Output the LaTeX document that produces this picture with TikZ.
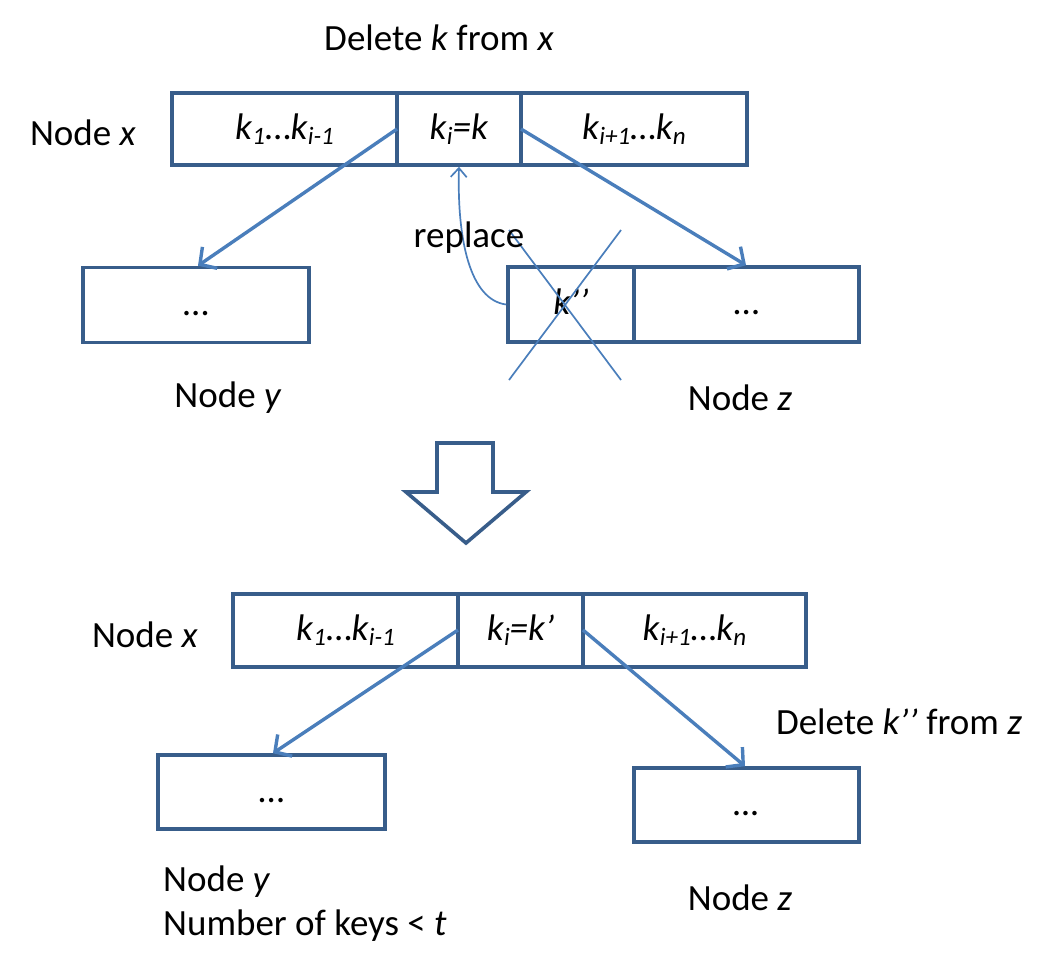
\documentclass[tikz,border=0pt]{standalone}
\usepackage{fontspec}
\setmainfont{Carlito}
\usetikzlibrary{arrows.meta}
\definecolor{boxblue}{HTML}{385D8A}
\definecolor{arrblue}{HTML}{4A7EBB}
\newcommand{\Kk}[1]{\textit{k}\raisebox{-0.3ex}{\fontsize{25}{25}\selectfont\itshape #1}}
\begin{document}
\begin{tikzpicture}[x=1pt,y=-1pt,
  every node/.style={font=\fontsize{37}{44}\selectfont, inner sep=0pt},
  cell/.style={draw=boxblue, line width=3.6pt, rectangle, minimum height=73pt, text height=26pt, text depth=6pt},
  link/.style={draw=arrblue, line width=3.4pt, -{Straight Barb[length=12pt,width=26pt,line width=3.4pt]}},
  thin/.style={draw=arrblue, line width=1.7pt},
  lbl/.style={anchor=center}]
\useasboundingbox (0,0) rectangle (1047,962);
% top node x
\node[cell, minimum width=225pt, minimum height=72pt] (x1) at (284.5,129) {\Kk{1}…\Kk{i-1}};
\node[cell, minimum width=124pt, minimum height=72pt] (x2) at (459,129) {\Kk{i}\textit{=k}};
\node[cell, minimum width=226pt, minimum height=72pt] (x3) at (634,129) {\Kk{i+1}…\Kk{n}};
\node[lbl] (lx) at (83,133) {Node \textit{x}};
\node[lbl] (title) at (439,38) {Delete \textit{k} from \textit{x}};
% top node y
\node[cell, minimum width=226pt, minimum height=75pt] (y) at (196,305) {…};
\node[lbl] (ly) at (228,398) {Node \textit{y}};
% top node z
\node[cell, minimum width=126pt, minimum height=75pt] (z1) at (571,304.5) {\textit{k’’}};
\node[cell, minimum width=225pt, minimum height=75pt] (z2) at (746.5,304.5) {…};
\node[lbl] (lz) at (740,398) {Node \textit{z}};
% connectors
\coordinate (xl) at (397,129);
\coordinate (xr) at (521,129);
\draw[link] (xl) -- (y.north -| 198,0);
\draw[link] (xr) -- (z2.north -| 746,0);
% cross
\coordinate (c1) at (509,230);
\coordinate (c2) at (621,380);
\coordinate (c3) at (621,230);
\coordinate (c4) at (509,380);
\draw[thin] (c1) -- (c2);
\draw[thin] (c3) -- (c4);
% replace
\draw[thin, -{Straight Barb[length=9pt,width=16pt,line width=1.7pt]}] (z1.west) .. controls (470,300) and (457,240) .. (x2.south);
\node[lbl] (rep) at (469,238) {replace};
% big arrow
\draw[boxblue, line width=3.6pt, line join=miter] (437,443) -- (493,443) -- (493,492) -- (526,492) -- (466,543) -- (406,492) -- (437,492) -- cycle;
% bottom node x
\node[cell, minimum width=225pt] (bx1) at (345.5,630.5) {\Kk{1}…\Kk{i-1}};
\node[cell, minimum width=125pt] (bx2) at (520.5,630.5) {\Kk{i}\textit{=k’}};
\node[cell, minimum width=223pt] (bx3) at (694.5,630.5) {\Kk{i+1}…\Kk{n}};
\node[lbl] (blx) at (145,635) {Node \textit{x}};
% bottom node y
\node[cell, minimum width=227pt, minimum height=74pt] (by) at (271.5,792) {…};
\node[anchor=north west, align=left, font=\fontsize{37}{44}\selectfont] (bly) at (163,866) {Node \textit{y}\\Number of keys < \textit{t}};
% bottom node z
\node[cell, minimum width=225pt, minimum height=74pt] (bz) at (746.5,805) {\textit{…}};
\node[lbl] (blz) at (740,898) {Node \textit{z}};
\node[lbl] (del) at (899,722) {Delete \textit{k’’} from \textit{z}};
\coordinate (bxl) at (458,630);
\coordinate (bxr) at (583,630);
\draw[link] (bxl) -- (by.north -| 273,0);
\draw[link] (bxr) -- (bz.north -| 745,0);
\end{tikzpicture}
\end{document}
